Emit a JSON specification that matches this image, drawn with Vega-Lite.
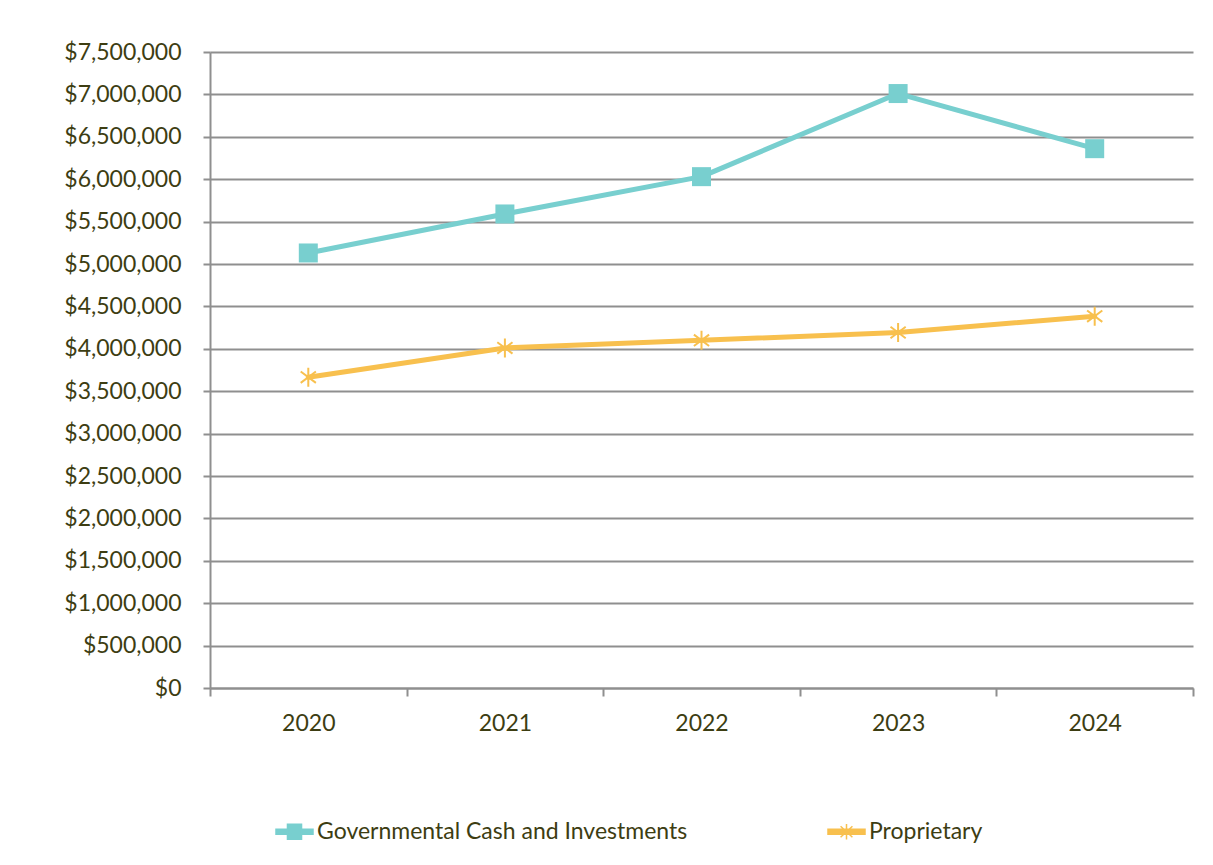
{
  "$schema": "https://vega.github.io/schema/vega-lite/v6.json",
  "width": 983,
  "height": 636,
  "autosize": {"type": "none"},
  "padding": {"left": 210, "top": 52, "right": 20, "bottom": 177},
  "background": "white",
  "config": {
    "view": {"stroke": null},
    "font": "Lato",
    "axis": {
      "labelFont": "Lato",
      "labelColor": "#3d3d12",
      "labelFontSize": 23,
      "domainColor": "#8f8f8f",
      "domainWidth": 2,
      "tickColor": "#8f8f8f",
      "tickWidth": 2,
      "gridColor": "#8f8f8f",
      "gridWidth": 1.8,
      "title": null
    }
  },
  "data": {
    "values": [
      {"year": "2020", "series": "Governmental Cash and Investments", "value": 5130000},
      {"year": "2021", "series": "Governmental Cash and Investments", "value": 5590000},
      {"year": "2022", "series": "Governmental Cash and Investments", "value": 6030000},
      {"year": "2023", "series": "Governmental Cash and Investments", "value": 7010000},
      {"year": "2024", "series": "Governmental Cash and Investments", "value": 6360000},
      {"year": "2020", "series": "Proprietary", "value": 3665000},
      {"year": "2021", "series": "Proprietary", "value": 4010000},
      {"year": "2022", "series": "Proprietary", "value": 4100000},
      {"year": "2023", "series": "Proprietary", "value": 4192000},
      {"year": "2024", "series": "Proprietary", "value": 4385000}
    ]
  },
  "encoding": {
    "x": {
      "field": "year",
      "type": "ordinal",
      "scale": {"type": "band", "paddingInner": 0, "paddingOuter": 0},
      "axis": {
        "tickBand": "extent",
        "tickSize": 8,
        "labelPadding": 16,
        "labelAngle": 0,
        "grid": false,
        "title": null
      }
    },
    "y": {
      "field": "value",
      "type": "quantitative",
      "scale": {"domain": [0, 7500000], "nice": false, "zero": true},
      "axis": {
        "values": [0, 500000, 1000000, 1500000, 2000000, 2500000, 3000000, 3500000, 4000000, 4500000, 5000000, 5500000, 6000000, 6500000, 7000000, 7500000],
        "format": "$,.0f",
        "tickSize": 7,
        "labelPadding": 22,
        "grid": true,
        "title": null
      }
    }
  },
  "layer": [
    {
      "mark": {"type": "line", "strokeWidth": 5, "strokeCap": "round", "strokeJoin": "round"},
      "encoding": {
        "color": {
          "field": "series",
          "type": "nominal",
          "scale": {
            "domain": ["Governmental Cash and Investments", "Proprietary"],
            "range": ["#78cfcf", "#f8c04e"]
          },
          "legend": {
            "orient": "none",
            "legendX": 65,
            "legendY": 760,
            "direction": "horizontal",
            "title": null,
            "labelFont": "Lato",
            "labelFontSize": 23,
            "labelColor": "#3d3d12",
            "labelLimit": 0,
            "labelOffset": 3,
            "columnPadding": 137,
            "symbolSize": 1369,
            "symbolType": "square",
            "encode": {
              "symbols": {
                "update": {
                  "shape": {"signal": "datum.value === 'Proprietary' ? 'M-1,-0.13H1V0.13H-1Z M0,-0.42V0.42 M-0.32,-0.3L0.32,0.3 M-0.32,0.3L0.32,-0.3' : 'M-1,-0.13H1V0.13H-1Z M-0.38,-0.4H0.38V0.4H-0.38Z'"},
                  "fill": {"scale": "color", "field": "value"},
                  "stroke": {"scale": "color", "field": "value"},
                  "strokeWidth": {"value": 1.5},
                  "size": {"value": 1369},
                  "opacity": {"value": 1}
                }
              }
            }
          }
        }
      }
    },
    {
      "transform": [{"filter": "datum.series === 'Governmental Cash and Investments'"}],
      "mark": {"type": "point", "shape": "square", "filled": true, "size": 361, "opacity": 1},
      "encoding": {
        "color": {"field": "series", "type": "nominal", "legend": null}
      }
    },
    {
      "transform": [{"filter": "datum.series === 'Proprietary'"}],
      "mark": {"type": "point", "shape": "M0,-1V1M-0.8,-0.6L0.8,0.6M-0.8,0.6L0.8,-0.6", "filled": false, "size": 361, "strokeWidth": 2, "opacity": 1},
      "encoding": {
        "color": {"field": "series", "type": "nominal", "legend": null}
      }
    }
  ]
}
